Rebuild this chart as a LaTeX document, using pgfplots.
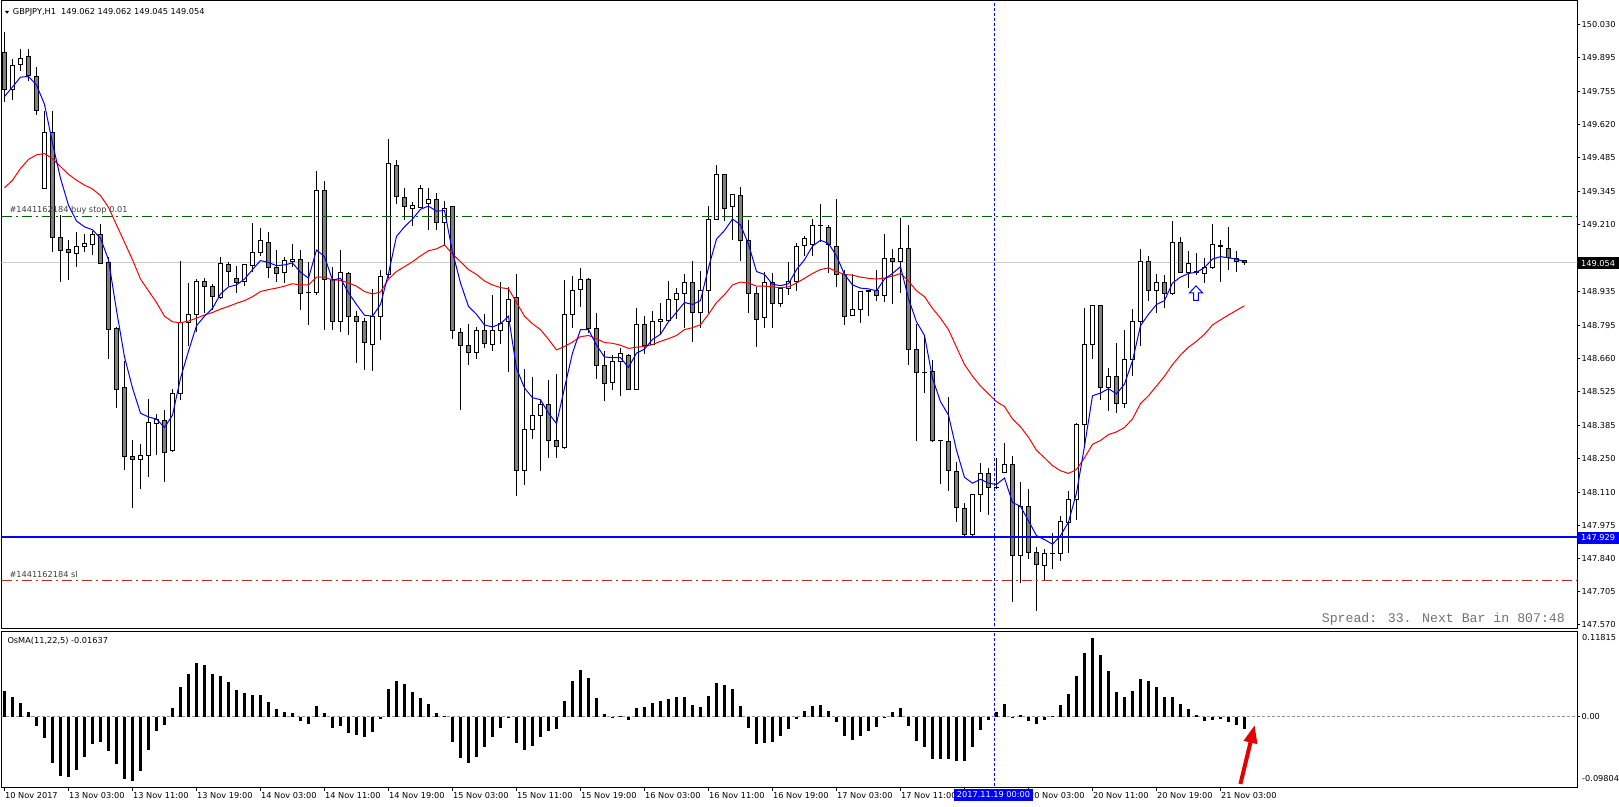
\documentclass[border=0pt]{standalone}
\usepackage{pgfplots}
\pgfplotsset{compat=1.18}
\usepackage{pgfplotstable}
\usepackage{fontspec}
\setmainfont{DejaVu Sans}
\newfontfamily\monofont{Liberation Mono}
\usetikzlibrary{arrows.meta}
\definecolor{mtgray}{RGB}{128,128,128}
\definecolor{mtblue}{RGB}{0,0,255}
\definecolor{mtred}{RGB}{255,0,0}
\definecolor{ordgreen}{RGB}{0,100,0}
\definecolor{slred}{RGB}{190,40,40}
\definecolor{bidgray}{RGB}{205,205,205}
\definecolor{zerogray}{RGB}{150,150,150}
\newcommand\mtf{\fontsize{8.2}{9.8}\selectfont}

\pgfplotstableread{
i O H L C
0 149.913 149.996 149.710 149.761
1 149.761 149.888 149.718 149.861
2 149.864 149.929 149.840 149.890
3 149.896 149.929 149.797 149.819
4 149.816 149.853 149.660 149.678
5 149.358 149.675 149.355 149.586
6 149.586 149.675 149.095 149.158
7 149.158 149.250 148.976 149.105
8 149.107 149.148 148.984 149.094
9 149.092 149.180 149.035 149.118
10 149.121 149.172 149.095 149.130
11 149.129 149.185 149.083 149.167
12 149.167 149.212 149.048 149.051
13 149.052 149.078 148.658 148.779
14 148.782 148.790 148.457 148.535
15 148.540 148.651 148.203 148.258
16 148.260 148.328 148.047 148.246
17 148.246 148.309 148.126 148.263
18 148.262 148.496 148.177 148.398
19 148.394 148.432 148.266 148.410
20 148.405 148.451 148.155 148.277
21 148.282 148.537 148.277 148.519
22 148.519 149.060 148.489 148.809
23 148.809 148.970 148.712 148.842
24 148.842 148.986 148.771 148.978
25 148.978 148.992 148.846 148.957
26 148.954 148.967 148.858 148.914
27 148.911 149.078 148.906 149.048
28 149.044 149.056 148.959 149.016
29 148.990 149.041 148.928 148.970
30 148.976 149.045 148.957 149.044
31 149.043 149.216 149.014 149.094
32 149.094 149.194 149.080 149.143
33 149.137 149.180 148.992 149.032
34 149.033 149.107 148.976 149.009
35 149.011 149.078 148.971 149.062
36 149.056 149.130 149.035 149.065
37 149.068 149.104 148.858 148.928
38 148.933 149.056 148.798 148.930
39 148.931 149.430 148.920 149.350
40 149.347 149.387 148.779 148.986
41 148.986 149.036 148.779 148.811
42 148.811 149.104 148.771 149.013
43 149.008 149.013 148.757 148.831
44 148.831 148.854 148.642 148.811
45 148.811 148.828 148.613 148.725
46 148.717 148.947 148.610 148.831
47 148.831 149.022 148.736 148.998
48 149.003 149.560 148.992 149.458
49 149.452 149.474 149.293 149.323
50 149.321 149.358 149.227 149.282
51 149.277 149.302 149.204 149.286
52 149.280 149.372 149.278 149.355
53 149.297 149.360 149.189 149.313
54 149.313 149.339 149.188 149.216
55 149.216 149.307 149.122 149.277
56 149.282 149.285 148.742 148.776
57 148.769 148.785 148.448 148.714
58 148.712 148.800 148.636 148.685
59 148.685 148.790 148.660 148.774
60 148.774 148.841 148.702 148.721
61 148.717 148.922 148.691 148.774
62 148.774 148.973 148.720 148.806
63 148.811 148.954 148.604 148.904
64 148.909 149.008 148.098 148.201
65 148.201 148.617 148.142 148.368
66 148.368 148.583 148.333 148.427
67 148.427 148.492 148.201 148.473
68 148.473 148.572 148.255 148.324
69 148.324 148.596 148.255 148.300
70 148.295 148.984 148.292 148.839
71 148.839 148.997 148.785 148.938
72 148.943 149.033 148.871 148.986
73 148.986 148.992 148.766 148.782
74 148.782 148.846 148.577 148.631
75 148.631 148.693 148.486 148.558
76 148.562 148.677 148.531 148.647
77 148.647 148.702 148.507 148.680
78 148.675 148.680 148.531 148.535
79 148.535 148.869 148.531 148.799
80 148.799 148.836 148.678 148.715
81 148.718 148.854 148.714 148.811
82 148.811 148.890 148.760 148.819
83 148.817 148.979 148.811 148.904
84 148.904 148.951 148.822 148.928
85 148.925 149.008 148.785 148.974
86 148.974 149.059 148.728 148.850
87 148.850 149.020 148.785 148.938
88 148.938 149.286 148.849 149.232
89 149.232 149.453 149.227 149.415
90 149.415 149.417 149.223 149.277
91 149.282 149.335 149.148 149.334
92 149.329 149.364 149.062 149.146
93 149.146 149.229 148.846 148.928
94 148.928 148.954 148.707 148.819
95 148.828 149.017 148.787 148.970
96 148.970 149.009 148.785 148.888
97 148.888 148.948 148.871 148.946
98 148.946 149.057 148.922 148.976
99 148.978 149.135 148.936 149.121
100 149.122 149.162 149.080 149.153
101 149.126 149.234 149.080 149.207
102 149.207 149.294 149.138 149.204
103 149.197 149.207 149.009 149.126
104 149.121 149.313 148.954 149.003
105 149.006 149.024 148.799 148.831
106 148.835 149.006 148.833 148.863
107 148.863 148.938 148.806 148.936
108 148.936 148.940 148.835 148.939
109 148.938 149.024 148.895 148.917
110 148.917 149.172 148.893 149.071
111 149.071 149.111 148.884 149.056
112 149.056 149.235 148.928 149.110
113 149.110 149.208 148.636 148.696
114 148.696 148.800 148.322 148.605
115 148.605 148.758 148.519 148.603
116 148.607 148.656 148.319 148.325
117 148.325 148.327 148.147 148.323
118 148.320 148.502 148.118 148.201
119 148.196 148.238 147.991 148.050
120 148.045 148.067 147.935 147.940
121 147.940 148.103 147.935 148.102
122 148.102 148.233 148.034 148.188
123 148.188 148.214 148.020 148.134
124 148.134 148.254 148.128 148.132
125 148.193 148.316 148.190 148.228
126 148.225 148.260 147.665 147.854
127 147.854 148.153 147.740 148.055
128 148.055 148.126 147.840 147.865
129 147.865 147.888 147.625 147.816
130 147.813 147.881 147.751 147.862
131 147.862 147.948 147.797 147.860
132 147.860 148.015 147.832 147.993
133 147.990 148.120 147.865 148.082
134 148.082 148.397 148.001 148.389
135 148.389 148.869 148.298 148.718
136 148.717 148.879 148.658 148.877
137 148.877 148.879 148.492 148.540
138 148.543 148.620 148.445 148.589
139 148.589 148.726 148.437 148.476
140 148.476 148.779 148.457 148.656
141 148.656 148.863 148.591 148.814
142 148.814 149.108 148.712 149.056
143 149.056 149.081 148.898 148.941
144 148.941 149.005 148.846 148.974
145 148.974 149.002 148.866 148.928
146 148.925 149.224 148.922 149.137
147 149.134 149.158 149.009 149.011
148 149.011 149.102 148.949 149.048
149 149.011 149.094 149.001 149.017
150 149.008 149.072 148.971 149.035
151 149.032 149.212 149.029 149.129
152 149.118 149.148 148.976 149.124
153 149.113 149.200 149.025 149.073
154 149.071 149.102 149.016 149.060
155 149.062 149.062 149.045 149.054
}\candles

\pgfplotstableread{
i B R
0 149.734 149.360
1 149.773 149.391
2 149.813 149.439
3 149.816 149.476
4 149.781 149.495
5 149.702 149.500
6 149.543 149.479
7 149.399 149.447
8 149.288 149.415
9 149.224 149.391
10 149.200 149.371
11 149.188 149.355
12 149.153 149.328
13 149.065 149.280
14 148.858 149.208
15 148.667 149.137
16 148.540 149.065
17 148.437 148.986
18 148.421 148.938
19 148.413 148.890
20 148.378 148.834
21 148.429 148.811
22 148.580 148.807
23 148.691 148.814
24 148.795 148.826
25 148.834 148.839
26 148.866 148.849
27 148.925 148.863
28 148.954 148.874
29 148.962 148.887
30 148.986 148.898
31 149.025 148.914
32 149.062 148.935
33 149.054 148.943
34 149.041 148.949
35 149.044 148.957
36 149.052 148.967
37 149.014 148.962
38 148.990 148.962
39 149.105 148.994
40 149.078 148.994
41 148.982 148.982
42 148.989 148.981
43 148.930 148.970
44 148.882 148.957
45 148.838 148.935
46 148.834 148.925
47 148.882 148.933
48 149.009 148.986
49 149.161 149.017
50 149.200 149.037
51 149.232 149.057
52 149.272 149.081
53 149.285 149.102
54 149.264 149.110
55 149.267 149.126
56 149.097 149.089
57 148.970 149.057
58 148.874 149.025
59 148.842 149.005
60 148.798 148.978
61 148.790 148.962
62 148.803 148.951
63 148.834 148.946
64 148.620 148.890
65 148.540 148.834
66 148.500 148.803
67 148.492 148.779
68 148.437 148.739
69 148.394 148.696
70 148.540 148.710
71 148.683 148.728
72 148.779 148.750
73 148.779 148.755
74 148.715 148.742
75 148.667 148.726
76 148.664 148.723
77 148.664 148.715
78 148.624 148.702
79 148.683 148.707
80 148.699 148.710
81 148.739 148.718
82 148.760 148.731
83 148.811 148.742
84 148.850 148.755
85 148.890 148.779
86 148.882 148.787
87 148.898 148.799
88 149.033 148.842
89 149.150 148.890
90 149.185 148.922
91 149.232 148.962
92 149.208 148.974
93 149.129 148.970
94 149.017 148.957
95 149.005 148.957
96 148.965 148.954
97 148.959 148.951
98 148.967 148.954
99 149.025 148.970
100 149.065 148.989
101 149.121 149.009
102 149.145 149.025
103 149.132 149.032
104 149.081 149.017
105 149.005 149.005
106 148.962 149.002
107 148.949 148.994
108 148.946 148.989
109 148.938 148.986
110 148.986 148.990
111 149.009 148.998
112 149.037 149.009
113 148.906 148.978
114 148.811 148.938
115 148.755 148.914
116 148.580 148.866
117 148.484 148.826
118 148.429 148.779
119 148.285 148.707
120 148.174 148.636
121 148.150 148.588
122 148.166 148.548
123 148.150 148.516
124 148.145 148.484
125 148.171 148.464
126 148.071 148.413
127 148.055 148.381
128 147.996 148.338
129 147.935 148.285
130 147.919 148.254
131 147.900 148.222
132 147.935 148.201
133 147.991 148.190
134 148.110 148.206
135 148.301 148.254
136 148.508 148.309
137 148.519 148.325
138 148.537 148.349
139 148.516 148.360
140 148.556 148.378
141 148.651 148.413
142 148.795 148.476
143 148.842 148.508
144 148.882 148.548
145 148.898 148.588
146 148.970 148.636
147 148.994 148.675
148 149.009 148.707
149 149.014 148.731
150 149.033 148.760
151 149.068 148.798
152 149.078 148.819
153 149.073 148.839
154 149.068 148.858
155 149.057 148.877
}\mas

\pgfplotstableread{
i v
0 0.0356
1 0.0271
2 0.0187
3 0.0061
4 -0.0122
5 -0.0290
6 -0.0636
7 -0.0824
8 -0.0833
9 -0.0735
10 -0.0557
11 -0.0384
12 -0.0346
13 -0.0468
14 -0.0655
15 -0.0861
16 -0.0889
17 -0.0753
18 -0.0454
19 -0.0201
20 -0.0117
21 0.0117
22 0.0412
23 0.0594
24 0.0749
25 0.0721
26 0.0594
27 0.0562
28 0.0482
29 0.0370
30 0.0328
31 0.0300
32 0.0300
33 0.0201
34 0.0103
35 0.0066
36 0.0047
37 -0.0061
38 -0.0103
39 0.0145
40 0.0047
41 -0.0150
42 -0.0122
43 -0.0229
44 -0.0248
45 -0.0285
46 -0.0211
47 -0.0037
48 0.0384
49 0.0496
50 0.0459
51 0.0346
52 0.0257
53 0.0173
54 0.0047
55 0.0004
56 -0.0356
57 -0.0566
58 -0.0636
59 -0.0552
60 -0.0426
61 -0.0285
62 -0.0159
63 -0.0019
64 -0.0365
65 -0.0454
66 -0.0412
67 -0.0285
68 -0.0201
69 -0.0173
70 0.0215
71 0.0496
72 0.0651
73 0.0538
74 0.0257
75 0.0033
76 -0.0019
77 0.0014
78 -0.0042
79 0.0117
80 0.0131
81 0.0187
82 0.0215
83 0.0243
84 0.0271
85 0.0271
86 0.0159
87 0.0131
88 0.0285
89 0.0468
90 0.0440
91 0.0384
92 0.0145
93 -0.0159
94 -0.0384
95 -0.0370
96 -0.0356
97 -0.0271
98 -0.0173
99 -0.0033
100 0.0075
101 0.0145
102 0.0159
103 0.0075
104 -0.0075
105 -0.0271
106 -0.0328
107 -0.0271
108 -0.0201
109 -0.0145
110 -0.0005
111 0.0061
112 0.0117
113 -0.0131
114 -0.0342
115 -0.0426
116 -0.0580
117 -0.0580
118 -0.0580
119 -0.0608
120 -0.0608
121 -0.0426
122 -0.0187
123 -0.0047
124 0.0061
125 0.0173
126 -0.0019
127 0.0023
128 -0.0061
129 -0.0103
130 -0.0047
131 0.0005
132 0.0159
133 0.0314
134 0.0566
135 0.0889
136 0.1086
137 0.0861
138 0.0636
139 0.0342
140 0.0271
141 0.0356
142 0.0524
143 0.0496
144 0.0412
145 0.0271
146 0.0271
147 0.0173
148 0.0103
149 0.0019
150 -0.0061
151 -0.0047
152 -0.0033
153 -0.0075
154 -0.0117
155 -0.0164
}\osma

\begin{document}
\begin{tikzpicture}[x=1pt,y=1pt]
\path[use as bounding box, fill=white] (0,0) rectangle (1619,806);
\pgfplotsset{
  mtmain/.style={scale only axis, width=1576pt, height=628pt, at={(1.5pt,177.5pt)}, anchor=south west,
    xmin=-0.375, xmax=196.625, ymin=147.5548, ymax=150.1271},
  tick label style={font=\mtf},
}
% ---- main frame, ticks, bid line, wicks
\begin{axis}[mtmain,
  axis line style={line width=1pt, black},
  xtick=\empty,
  ytick pos=right, yticklabel pos=right,
  tick align=outside, major tick length=3pt,
  tick style={line width=1pt, black},
  ytick={147.570,147.705,147.840,147.975,148.110,148.250,148.385,148.525,148.660,148.795,148.935,149.210,149.345,149.485,149.620,149.755,149.895,150.030},
  yticklabels={147.570,147.705,147.840,147.975,148.110,148.250,148.385,148.525,148.660,148.795,148.935,149.210,149.345,149.485,149.620,149.755,149.895,150.030},
  extra y ticks={149.070}, extra y tick labels={},
  yticklabel style={anchor=west, inner sep=0pt, xshift=1pt},
]
\addplot[bidgray, line width=1pt] coordinates {(-1,149.054) (198,149.054)};
\addplot[draw=none, mark=none, error bars/.cd, y dir=plus, y explicit, error mark=none,
  error bar style={draw=black, solid, line width=1pt}]
  table[x=i, y=L, y error expr=\thisrow{H}-\thisrow{L}] {\candles};
\end{axis}
% ---- candle bodies
\begin{axis}[mtmain, axis lines=none, ybar stacked, bar width=4pt]
\addplot[draw=none, fill=none] table[x=i, y expr={min(\thisrow{O},\thisrow{C})}] {\candles};
\addplot[draw=black, line width=1pt, fill=mtgray] table[x=i, y expr={(\thisrow{O}>\thisrow{C}) ? (\thisrow{O}-\thisrow{C}) : 0}] {\candles};
\addplot[draw=black, line width=1pt, fill=white] table[x=i, y expr={(\thisrow{C}>=\thisrow{O}) ? (\thisrow{C}-\thisrow{O}) : 0}] {\candles};
\end{axis}
% ---- indicators, order lines, crosshair
\begin{axis}[mtmain, axis lines=none]
\addplot[mtred, line width=1pt] table[x=i, y=R] {\mas};
\addplot[mtblue, line width=1pt] table[x=i, y=B] {\mas};
\addplot[ordgreen, line width=1pt, dash pattern=on 10pt off 4pt on 2pt off 4pt] coordinates {(-0.375,149.243) (196.625,149.243)};
\addplot[slred, line width=1pt, dash pattern=on 10pt off 4pt on 2pt off 4pt] coordinates {(-0.375,147.751) (196.625,147.751)};
\addplot[mtblue, line width=2pt] coordinates {(-1,147.929) (198,147.929)};
\addplot[mtblue, line width=1pt, dash pattern=on 3pt off 2pt] coordinates {(123.8,147.4) (123.8,150.3)};
\draw[mtblue, fill=white, line width=1pt]
  (axis cs:148.94,148.958) -- (axis cs:149.75,148.930) -- (axis cs:149.25,148.930) -- (axis cs:149.25,148.899)
  -- (axis cs:148.63,148.899) -- (axis cs:148.63,148.930) -- (axis cs:148.13,148.930) -- cycle;
\end{axis}
% ---- OsMA panel
\begin{axis}[scale only axis, width=1576pt, height=156pt, at={(1.5pt,18.5pt)}, anchor=south west,
  xmin=-0.375, xmax=196.625, ymin=-0.09804, ymax=0.11815,
  axis line style={line width=1pt, black},
  tick align=outside, major tick length=3pt,
  tick style={line width=1pt, black},
  ytick pos=right, yticklabel pos=right,
  ytick={0}, yticklabels={0.00},
  yticklabel style={anchor=west, inner sep=0pt, xshift=1pt},
  xtick pos=bottom,
  xtick={0,8,16,24,32,40,48,56,64,72,80,88,96,104,112,128,136,144,152},
  xticklabels={10 Nov 2017,13 Nov 03:00,13 Nov 11:00,13 Nov 19:00,14 Nov 03:00,14 Nov 11:00,14 Nov 19:00,15 Nov 03:00,15 Nov 11:00,15 Nov 19:00,16 Nov 03:00,16 Nov 11:00,16 Nov 19:00,17 Nov 03:00,17 Nov 11:00,20 Nov 03:00,20 Nov 11:00,20 Nov 19:00,21 Nov 03:00},
  extra x ticks={120}, extra x tick labels={},
  xticklabel style={anchor=west, inner sep=0pt, xshift=0.5pt, yshift=-5pt},
]
\addplot[zerogray, line width=1pt, dash pattern=on 3pt off 2pt] coordinates {(-0.375,0) (196.625,0)};
\addplot[black, ycomb, line width=3pt] table[x=i, y=v] {\osma};
\addplot[mtblue, line width=1pt, dash pattern=on 3pt off 2pt] coordinates {(123.8,-0.2) (123.8,0.2)};
\end{axis}
% ---- texts and labels
\fill[black] (5,795) -- (9,795) -- (7,792.3) -- cycle;
\node[anchor=west, inner sep=0pt] at (12.7,794) {\mtf GBPJPY,H1\ \ 149.062 149.062 149.045 149.054};
\node[anchor=west, inner sep=0pt, text=black!75] at (9.3,595.6) {\mtf \#1441162184 buy stop 0.01};
\node[anchor=west, inner sep=0pt, text=black!75] at (9.3,231.6) {\mtf \#1441162184 sl};
\node[anchor=east, inner sep=0pt, text=black!55] at (1565,186.5) {\monofont\fontsize{13.2}{14}\selectfont Spread: 33. Next Bar in 807:48};
\node[anchor=west, inner sep=0pt] at (7.3,165.5) {\mtf OsMA(11,22,5) -0.01637};
\node[anchor=west, inner sep=0pt] at (1582,168) {\mtf 0.11815};
\node[anchor=west, inner sep=0pt] at (1582,27.5) {\mtf -0.09804};
\fill[black] (1578,536.5) rectangle (1619,549);
\node[anchor=west, inner sep=0pt, text=white] at (1581,542.75) {\mtf 149.054};
\fill[mtblue] (1578,262) rectangle (1619,274);
\node[anchor=west, inner sep=0pt, text=white] at (1581,268) {\mtf 147.929};
\fill[mtblue] (954,5) rectangle (1033,17);
\node[inner sep=0pt, text=white] at (993.5,11) {\mtf 2017.11.19 00:00};
\draw[-{Triangle[length=18pt,width=13pt]}, line width=4pt, red!90!black] (1240.4,22) -- (1254.7,81);
\end{tikzpicture}
\end{document}
